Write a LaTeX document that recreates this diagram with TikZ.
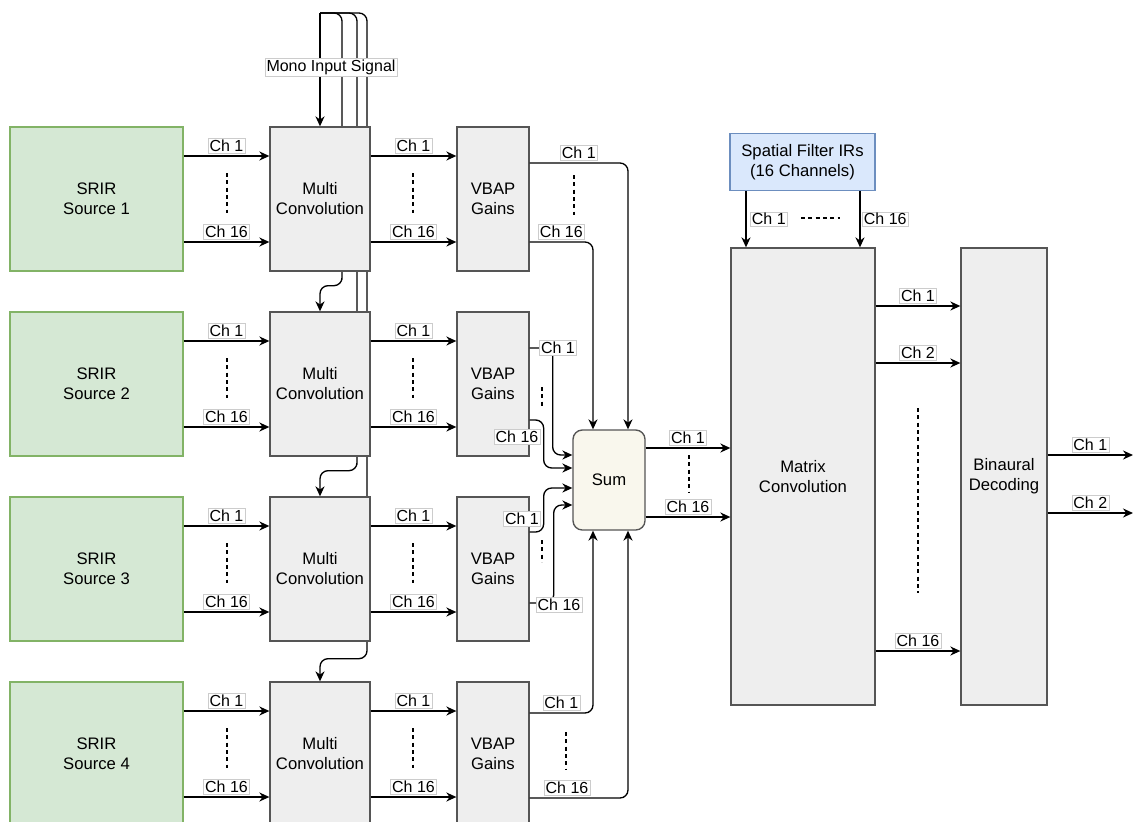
\documentclass[tikz,border=0pt]{standalone}
\usepackage{fontspec}
\setmainfont{Liberation Sans}
\usetikzlibrary{arrows.meta,positioning,backgrounds}
\definecolor{srirfill}{HTML}{D5E8D4}
\definecolor{srirline}{HTML}{82B366}
\definecolor{blockfill}{HTML}{EEEEEE}
\definecolor{blockline}{HTML}{555555}
\definecolor{sumfill}{HTML}{F9F7ED}
\definecolor{irfill}{HTML}{DAE8FC}
\definecolor{irline}{HTML}{6C8EBF}

\begin{document}
\begin{tikzpicture}[x=0.75pt,y=-0.75pt,
    font=\fontsize{12.5}{15}\selectfont,
    box/.style={draw=blockline,fill=blockfill,line width=1pt,align=center,inner sep=2pt},
    srir/.style={box,draw=srirline,fill=srirfill,minimum width=129.75pt,minimum height=108pt},
    conv/.style={box,minimum width=75pt,minimum height=108pt},
    vbap/.style={box,minimum width=54pt,minimum height=108pt},
    sumbox/.style={box,fill=sumfill,rounded corners=7pt,minimum width=54pt,minimum height=75pt},
    tall/.style={box,minimum height=342.75pt},
    irbox/.style={box,draw=irline,fill=irfill,minimum width=108.75pt,minimum height=42.75pt},
    sig/.style={line width=1pt,rounded corners=6pt,-{Stealth[length=7.5pt,width=6.8pt]}},
    chlab/.style={draw=black!20,fill=white,sharp corners,inner sep=1.2pt,line width=0.4pt,
      font=\fontsize{12}{14}\selectfont},
    dots/.style={line width=0.8pt,dash pattern=on 3pt off 2.5pt}]
  \useasboundingbox (0,0) rectangle (1133,822);

  % blocks on the right
  \node[sumbox] (sum) at (609,480) {Sum};
  \node[tall,minimum width=108pt] (mat) at (803,476.5) {Matrix\\Convolution};
  \node[tall,minimum width=64.5pt] (bin) at (1004,476.5) {Binaural\\Decoding};
  \node[irbox] (ir) at (802.5,162) {Spatial Filter IRs\\(16 Channels)};

  % one row per source
  \foreach \i [evaluate=\i as \c using 14+185*\i] in {1,...,4} {
    \node[srir] (src\i) at (96.5,\c) {SRIR\\Source \i};
    \node[conv] (mc\i) at (320,\c) {Multi\\Convolution};
    \node[vbap] (vb\i) at (493,\c) {VBAP\\Gains};
    \draw[sig] (src\i.east |- 0,\c-43) -- node[chlab,above=2pt] (sa\i) {Ch 1} (mc\i.west |- 0,\c-43);
    \draw[sig] (src\i.east |- 0,\c+43) -- node[chlab,above=2pt] (sb\i) {Ch 16} (mc\i.west |- 0,\c+43);
    \draw[dots] (227,\c-26) -- (227,\c+14);
    \draw[sig] (mc\i.east |- 0,\c-43) -- node[chlab,above=2pt] (ca\i) {Ch 1} (vb\i.west |- 0,\c-43);
    \draw[sig] (mc\i.east |- 0,\c+43) -- node[chlab,above=2pt] (cb\i) {Ch 16} (vb\i.west |- 0,\c+43);
    \draw[dots] (413,\c-26) -- (413,\c+14);
  }

  % mono input feeds every convolver
  \coordinate (mono) at (320,13);
  \begin{scope}[on background layer]
    \draw[sig] (mono) -- (mc1.north);
    \draw[sig] (mono) -| ([xshift=16.5pt]mc1.south) -- ++(0,14) -| (mc2.north);
    \draw[sig] (mono) -| ([xshift=27.75pt]mc2.south) -- ++(0,14) -| (mc3.north);
    \draw[sig] (mono) -| ([xshift=35.25pt]mc3.south) -- ++(0,17) -| (mc4.north);
  \end{scope}
  \node[chlab] (monolab) at (331,67) {Mono Input Signal};

  % gains into the sum
  \draw[sig] ([yshift=27pt]vb1.east) -| node[chlab,above=2pt,pos=0.25] (va1) {Ch 1} ([xshift=14.25pt]sum.north);
  \draw[sig] ([yshift=-32.25pt]vb1.east) -| node[chlab,above=2pt,pos=0.25] (vb1l) {Ch 16} ([xshift=-12pt]sum.north);
  \draw[dots] (574,175) -- (574,215);

  \draw[sig] ([yshift=27pt]vb2.east) -- ++(23,0) node[chlab,xshift=4pt] (va2) {Ch 1} |- ([yshift=18.75pt]sum.west);
  \draw[sig] ([yshift=-27pt]vb2.east) -- ++(14,0) |- ([yshift=9pt]sum.west);
  \node[chlab] (vb2l) at (517,437) {Ch 16};
  \draw[dots] (542,387) -- (542,408);

  \draw[sig] ([yshift=27.75pt]vb3.east) -- ++(14,0) |- ([yshift=-6pt]sum.west);
  \node[chlab] (va3) at (522,519) {Ch 1};
  \draw[sig] ([yshift=-25.5pt]vb3.east) -- ++(24,0) node[chlab,xshift=4pt,yshift=-1.5pt] (vb3l) {Ch 16} |- ([yshift=-18.75pt]sum.west);
  \draw[dots] (542,540) -- (542,562);

  \draw[sig] ([yshift=30.75pt]vb4.east) -| node[chlab,above=2pt,pos=0.25] (va4) {Ch 1} ([xshift=-12pt]sum.south);
  \draw[sig] ([yshift=-33pt]vb4.east) -| node[chlab,above=2pt,pos=0.19] (vb4l) {Ch 16} ([xshift=14.25pt]sum.south);
  \draw[dots] (566,732) -- (566,770);

  % sum to matrix convolution
  \draw[sig] (sum.east |- 0,448) -- node[chlab,above=2pt] (s1) {Ch 1} (mat.west |- 0,448);
  \draw[sig] (sum.east |- 0,517) -- node[chlab,above=2pt] (s16) {Ch 16} (mat.west |- 0,517);
  \draw[dots] (689,455) -- (689,493);

  % spatial filters
  \draw[sig] (ir.south -| 746,0) -- node[chlab,right=3pt] (f1) {Ch 1} (mat.north -| 746,0);
  \draw[sig] (ir.south -| 860,0) -- node[chlab,right=1.5pt] (f16) {Ch 16} (mat.north -| 860,0);
  \draw[dots] (801,218) -- (840,218);

  % matrix to binaural
  \foreach \yy/\lab/\nm in {306/Ch 1/m1, 363/Ch 2/m2, 651/Ch 16/m16}
    \draw[sig] (mat.east |- 0,\yy) -- node[chlab,above=2pt] (\nm) {\lab} (bin.west |- 0,\yy);
  \draw[dots] (918,408) -- (918,593);

  % binaural out
  \coordinate (outl) at (1133,455);
  \coordinate (outr) at (1133,513);
  \draw[sig] (bin.east |- outl) -- node[chlab,above=2pt] (b1) {Ch 1} (outl);
  \draw[sig] (bin.east |- outr) -- node[chlab,above=2pt] (b2) {Ch 2} (outr);
\end{tikzpicture}
\end{document}
